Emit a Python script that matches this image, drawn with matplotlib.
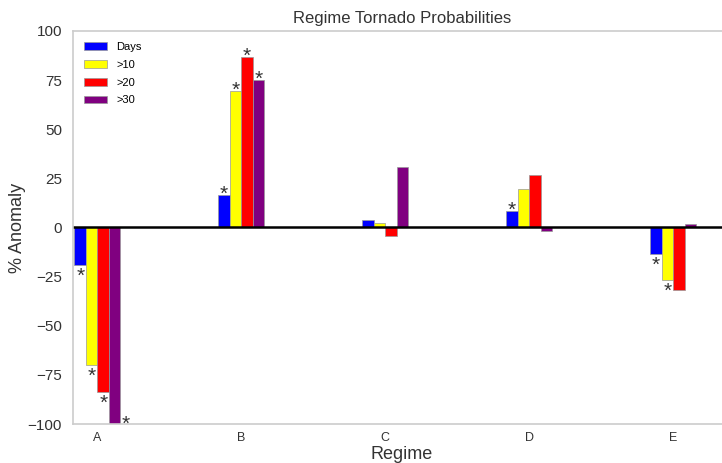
import numpy as np
import matplotlib
matplotlib.use('Agg')
from matplotlib import pyplot as plt

plt.rcParams['font.family'] = ['Liberation Sans', 'DejaVu Sans']

regimes = ['A', 'B', 'C', 'D', 'E']
series = ['Days', '>10', '>20', '>30']
colors = ['blue', 'yellow', 'red', 'purple']

days = [-19, 16.5, 3.6, 8.2, -13.5]
gt10 = [-70, 69.5, 2.2, 19.5, -26.5]
gt20 = [-83.5, 86.5, -4.5, 26.5, -32]
gt30 = [-100, 75, 31, -2, 2]
values = [days, gt10, gt20, gt30]

# significance markers per series
signif = [
    [True, True, False, True, True],
    [True, True, False, False, True],
    [True, True, False, False, False],
    [True, True, False, False, False],
]

fig = plt.figure(figsize=(7.22, 4.63), dpi=100)
ax = fig.add_axes([0.1011, 0.0842, 0.911, 0.849])

x = np.arange(len(regimes))
width = 0.08
offsets = [-1.5 * width, -0.5 * width, 0.5 * width, 1.5 * width]
ymin, ymax = -100, 100

for vals, sig, off, col, lab in zip(values, signif, offsets, colors, series):
    ax.bar(x + off, vals, width, color=col, edgecolor='#999999', linewidth=0.5, label=lab)
    for xi, v, s in zip(x, vals, sig):
        if not s:
            continue
        if v >= 0:
            ax.text(xi + off, v - 4.5, '*', ha='center', va='bottom', fontsize=15, color='#333333')
        elif v <= ymin:
            # bar hits the floor: star goes beside it
            ax.text(xi + off + width * 0.95, v - 5, '*', ha='center', va='bottom', fontsize=15, color='#333333')
        else:
            ax.text(xi + off, v - 1.0, '*', ha='center', va='top', fontsize=15, color='#333333')

ax.axhline(0, color='black', lw=1.8)

ax.set_xlim(-0.17, 4.4)
ax.set_ylim(ymin, ymax)
ax.set_yticks([-100, -75, -50, -25, 0, 25, 50, 75, 100])
ax.set_xticks(x)
ax.set_xticklabels(regimes)
ax.tick_params(axis='both', length=0, colors='#333333')
ax.tick_params(axis='y', labelsize=11, pad=8)
ax.tick_params(axis='x', labelsize=9, pad=6)

for sp in ax.spines.values():
    sp.set_color('#cccccc')
    sp.set_linewidth(1.2)

ax.set_title('Regime Tornado Probabilities', fontsize=12, color='#333333')
ax.set_ylabel('% Anomaly', fontsize=13, color='#333333', labelpad=1)
ax.set_xlabel('Regime', fontsize=13, color='#333333', labelpad=1)

ax.legend(loc='upper left', fontsize=8, frameon=False, handlelength=2.1,
          labelspacing=0.7, borderaxespad=0.6)

fig.savefig('out.png', dpi=100)
